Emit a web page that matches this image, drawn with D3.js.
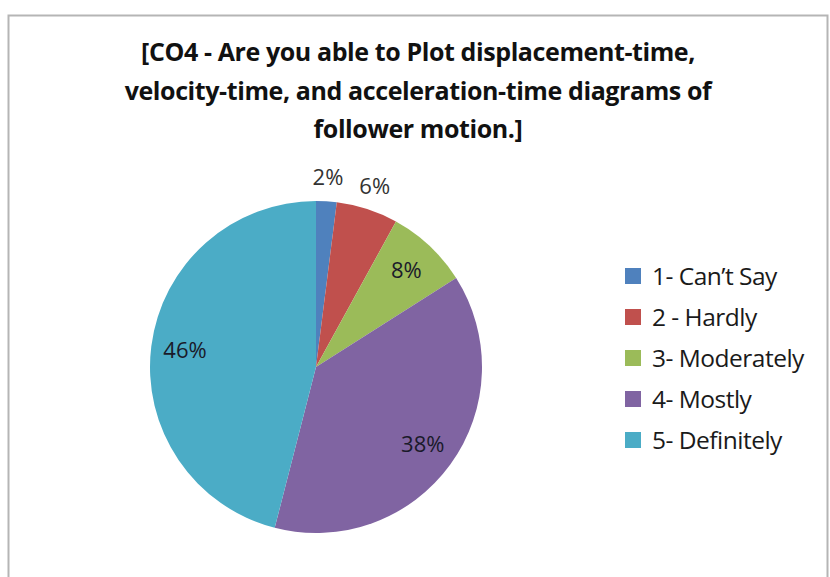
<!DOCTYPE html>
<html><head><meta charset="utf-8">
<script src="https://cdn.jsdelivr.net/npm/d3@7"></script>
<style>body{margin:0;background:#fff}svg{display:block}</style>
</head><body>
<svg id="c" width="830" height="577"></svg>
<script>
const categories = ["1- Can\u2019t Say", "2 - Hardly", "3- Moderately", "4- Mostly", "5- Definitely"];
const counts = [1, 3, 4, 19, 23];
const colors = ["#4F81BD", "#C0504D", "#9BBB59", "#8064A2", "#4BACC6"];
const titleLines = ["[CO4 - Are you able to Plot displacement-time,", "velocity-time, and acceleration-time diagrams of", "follower motion.]"];

const svg = d3.select("#c");
svg.append("rect").attr("x", 8.5).attr("y", 15.5).attr("width", 819).attr("height", 570)
  .attr("fill", "#fff").attr("stroke", "#b5b5b5").attr("stroke-width", 2);

svg.append("g").selectAll("text").data(titleLines).join("text")
  .attr("x", 418).attr("y", (d, i) => 61 + i * 38.5)
  .attr("text-anchor", "middle")
  .attr("font-family", "Open Sans, sans-serif").attr("font-weight", "bold")
  .attr("font-size", 25).attr("letter-spacing", -0.4).attr("fill", "#111").text(d => d);

const cx = 316, cy = 367, r = 166;
const total = d3.sum(counts);
const pie = d3.pie().sort(null).value(d => d)(counts);
const arc = d3.arc().innerRadius(0).outerRadius(r);
const g = svg.append("g").attr("transform", `translate(${cx},${cy})`);
g.selectAll("path").data(pie).join("path")
  .attr("d", arc).attr("fill", (d, i) => colors[i]);

const outArc = d3.arc().innerRadius(190).outerRadius(190);
const inArc = d3.arc().innerRadius(132).outerRadius(132);
g.selectAll("text").data(pie).join("text")
  .attr("transform", d => {
    const p = (d.value / total < 0.07 ? outArc : inArc).centroid(d);
    return `translate(${p[0]},${p[1]})`;
  })
  .attr("text-anchor", "middle").attr("dy", "0.35em")
  .attr("font-family", "Open Sans, sans-serif").attr("font-size", 22)
  .attr("fill", (d, i) => i < 2 ? "#333" : "#1a1a2a")
  .text(d => Math.round(d.value / total * 100) + "%");

const leg = svg.append("g").selectAll("g").data(categories).join("g")
  .attr("transform", (d, i) => `translate(625,${276 + i * 41})`);
leg.append("rect").attr("x", 0).attr("y", -8).attr("width", 16).attr("height", 16)
  .attr("fill", (d, i) => colors[i]);
leg.append("text").attr("x", 27).attr("dy", "0.35em")
  .attr("font-family", "Open Sans, sans-serif").attr("font-size", 24.5)
  .attr("letter-spacing", -0.5)
  .attr("fill", "#1a1a1a").text(d => d);
</script>
</body></html>
